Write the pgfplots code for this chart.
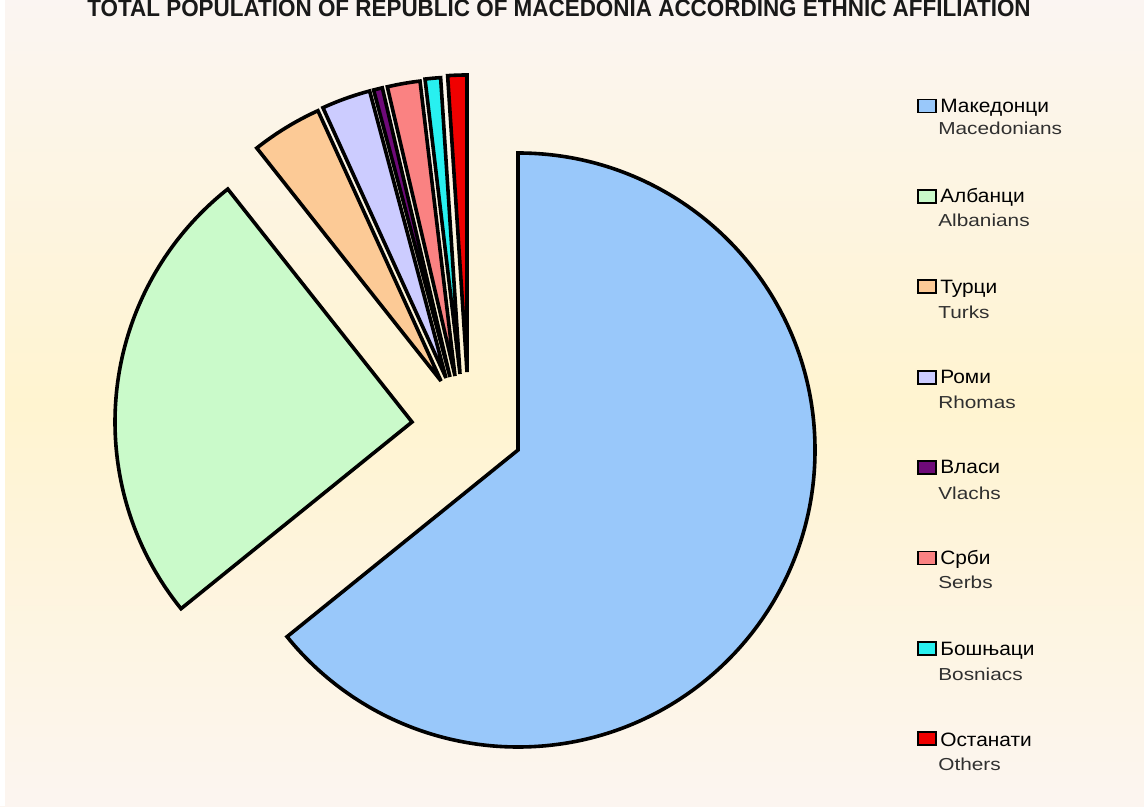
\documentclass[border=0pt]{standalone}
\usepackage{pgfplots}
\pgfplotsset{compat=1.18}
\usepackage{pgfplotstable}
\usepackage{fontspec}
\setmainfont{Liberation Sans}
\definecolor{c0}{HTML}{99C8FA}
\definecolor{c1}{HTML}{CAFACA}
\definecolor{c2}{HTML}{FCCA96}
\definecolor{c3}{HTML}{CCCCFF}
\definecolor{c4}{HTML}{6E0A78}
\definecolor{c5}{HTML}{FA8282}
\definecolor{c6}{HTML}{28F0F0}
\definecolor{c7}{HTML}{F00000}
\definecolor{bgtop}{HTML}{FBF5F2}
\definecolor{bgmid}{HTML}{FFF4D0}
\definecolor{bgbot}{HTML}{FCF5F0}
\definecolor{entxt}{HTML}{303030}
% percent share of the population, offset of each (exploded) slice vertex in px
\pgfplotstableread[col sep=comma]{
name,value,dx,dy
Macedonians,64.18,0,0
Albanians,25.17,-106,28
Turks,3.85,-77,69
Rhomas,2.66,-72,72
Vlachs,0.48,-68,73
Serbs,1.78,-63,74
Bosniacs,0.84,-58,76
Others,1.04,-51,78
}\pietable
\begin{document}
\begin{tikzpicture}
\clip (0,0) rectangle (858pt,604.5pt);
\def\curang{90}%
\pgfplotsforeachungrouped \i in {0,...,7}{%
  \pgfplotstablegetelem{\i}{value}\of\pietable \let\v\pgfplotsretval
  \pgfplotstablegetelem{\i}{dx}\of\pietable \let\ddx\pgfplotsretval
  \pgfplotstablegetelem{\i}{dy}\of\pietable \let\ddy\pgfplotsretval
  \pgfmathsetmacro{\endang}{\curang-3.6*\v}%
  \expandafter\xdef\csname sa\i\endcsname{\curang}%
  \expandafter\xdef\csname ea\i\endcsname{\endang}%
  \expandafter\xdef\csname vx\i\endcsname{\ddx}%
  \expandafter\xdef\csname vy\i\endcsname{\ddy}%
  \xdef\curang{\endang}%
}
\begin{axis}[hide axis, scale only axis, width=858pt, height=604.5pt,
  xmin=0, xmax=1144, ymin=0, ymax=806, clip=false]
\fill[top color=bgtop, bottom color=bgbot, middle color=bgmid]
  (axis cs:0,0) rectangle (axis cs:1144,806);
\fill[white] (axis cs:0,0) rectangle (axis cs:5,806);
\pgfplotsinvokeforeach{0,...,7}{%
  \pgfmathsetmacro{\px}{518+\csname vx#1\endcsname}%
  \pgfmathsetmacro{\py}{356+\csname vy#1\endcsname}%
  \edef\temp{\noexpand\filldraw[fill=c#1, draw=black, line width=2.7pt, line join=miter, miter limit=4]
    (axis cs:\px,\py) -- ++(\csname sa#1\endcsname:222.75pt)
    arc[start angle=\csname sa#1\endcsname, end angle=\csname ea#1\endcsname, radius=222.75pt] -- cycle;}%
  \temp
}
\node[anchor=base, font=\bfseries\fontsize{18}{20}\selectfont, text=black!90, xscale=0.935]
  at (axis cs:559,789) {TOTAL POPULATION OF REPUBLIC OF MACEDONIA ACCORDING ETHNIC AFFILIATION};
% legend
\pgfplotsinvokeforeach{0,...,7}{%
  \pgfmathsetmacro{\ly}{806-(105+90.4*#1)}%
  \edef\temp{\noexpand\filldraw[fill=c#1, draw=black, line width=1.3pt]
    (axis cs:918,\ly-7.5) rectangle (axis cs:936,\ly+5.5);}%
  \temp
}
\def\cyr#1#2{\node[anchor=base west, font=\fontsize{14.5}{16}\selectfont, inner sep=0pt, xscale=1.08] at (axis cs:940,806-#1-8) {#2};}
\def\eng#1#2{\node[anchor=base west, font=\fontsize{13}{15}\selectfont, text=entxt, inner sep=0pt, xscale=1.2] at (axis cs:938,806-#1-7) {#2};}
\cyr{105}{Македонци}\eng{128}{Macedonians}
\cyr{195}{Албанци}\eng{220}{Albanians}
\cyr{286}{Турци}\eng{312}{Turks}
\cyr{376}{Роми}\eng{402}{Rhomas}
\cyr{466}{Власи}\eng{493}{Vlachs}
\cyr{557}{Срби}\eng{582}{Serbs}
\cyr{648}{Бошњаци}\eng{673}{Bosniacs}
\cyr{738}{Останати}\eng{763}{Others}
\end{axis}
\end{tikzpicture}
\end{document}
